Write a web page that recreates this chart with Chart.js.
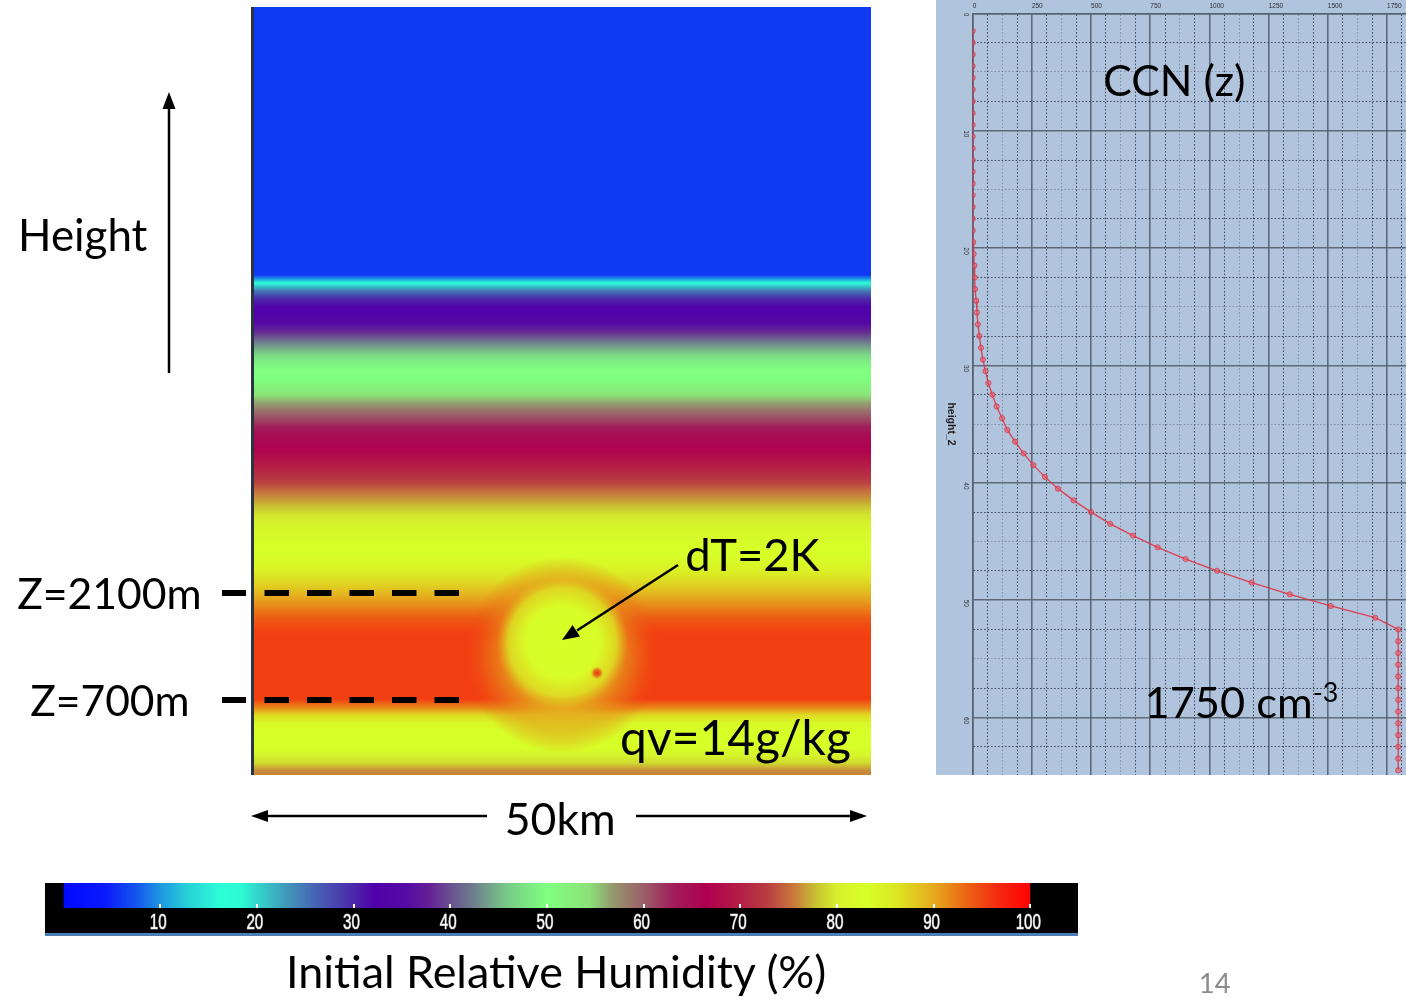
<!DOCTYPE html>
<html><head><meta charset="utf-8"><title>Initial Relative Humidity and CCN(z)</title>
<script src="https://cdn.jsdelivr.net/npm/chart.js@4.4.1/dist/chart.umd.min.js"></script>
<style>
html,body{margin:0;padding:0;background:#fff;}
body{width:1406px;height:999px;position:relative;overflow:hidden;}
canvas{position:absolute;display:block;}
.t{position:absolute;left:0;top:0;white-space:nowrap;line-height:1.2;color:#000;font-family:Lato,'Open Sans',sans-serif;}
.bl{display:inline-block;width:0;height:0;vertical-align:baseline;}
sup{font-size:0.62em;vertical-align:0.6em;line-height:0;}
</style></head>
<body>
<canvas id="hm" width="617" height="768" style="left:254px;top:7px"></canvas>
<div style="position:absolute;left:251px;top:7px;width:3px;height:768px;background:#2a3540"></div>
<canvas id="ccn" width="470" height="775" style="left:936px;top:0;background:#b0c4de"></canvas>
<canvas id="cb" width="1033" height="50" style="left:45px;top:883px;background:#000"></canvas>
<div style="position:absolute;left:45px;top:933px;width:1033px;height:3px;background:#4a7fb5"></div>
<svg width="1406" height="999" style="position:absolute;left:0;top:0;pointer-events:none">
  <line x1="169" y1="373" x2="169" y2="106" stroke="#000" stroke-width="2.5"/>
  <polygon points="169,92 162.5,109 175.5,109" fill="#000"/>
  <rect x="222" y="590" width="24" height="6" fill="#000"/>
  <rect x="222" y="697" width="24" height="6" fill="#000"/>
  <line x1="264.5" y1="593" x2="459" y2="593" stroke="#000" stroke-width="6" stroke-dasharray="24.5 18"/>
  <line x1="264.5" y1="700" x2="459" y2="700" stroke="#000" stroke-width="6" stroke-dasharray="24.5 18"/>
  <line x1="264" y1="816" x2="487" y2="816" stroke="#000" stroke-width="2.5"/>
  <polygon points="251,816 268,810 268,822" fill="#000"/>
  <line x1="636" y1="816" x2="854" y2="816" stroke="#000" stroke-width="2.5"/>
  <polygon points="867,816 850,810 850,822" fill="#000"/>
  <line x1="678" y1="565" x2="577" y2="630.5" stroke="#000" stroke-width="2.5"/>
  <polygon points="562,640 580,636.5 572.6,625.1" fill="#000"/>
</svg>
<script>
// ---------------- DATA ----------------
// Colour scale of the colour bar (RH in %, rgb)
const cmapRH = [0, 4.3, 7.7, 10, 12.9, 16.4, 18.4, 20, 23.2, 26, 30, 32.2, 35.3, 37.7, 40, 42.6, 45.7, 50,
  54.4, 56.9, 60, 63, 66.5, 70, 72.7, 75.5, 77.9, 80, 83.1, 86.2, 90, 93.4, 96.8, 100];
const cmapRGB = [[0,10,255],[10,25,250],[20,90,235],[30,150,225],[40,210,215],[45,255,215],[45,250,210],[50,215,205],
  [65,150,185],[70,100,180],[75,40,170],[80,0,170],[85,10,165],[100,30,150],[105,80,145],[110,130,140],[120,200,135],[128,255,128],
  [140,225,120],[150,150,110],[155,95,105],[160,30,90],[175,0,80],[180,30,70],[185,60,65],[200,120,60],[200,195,50],[215,240,45],
  [215,255,40],[220,230,35],[230,170,30],[235,100,20],[245,40,15],[255,0,0]];
const cbTicks = [10, 20, 30, 40, 50, 60, 70, 80, 90, 100];

// Initial RH profile (%), one value per 100 m layer, from the ground upward
const rhProfile = [76, 79, 81, 83, 83, 83, 84, 87, 92,
  95.5, 95.5, 95.5, 95.5, 95.5, 95.5, 95.5, 95.5, 95.5,
  95, 94, 92.5, 91, 89.5, 88, 86.5, 85, 84, 83, 83, 82, 81.5, 80.5, 79.5, 78, 76.5, 75, 73, 71.5, 70, 68.5,
  67, 66, 65, 63, 61, 59, 56.5, 54, 52, 50, 50, 49, 47, 44, 41, 38, 35, 33, 32, 30, 25, 17,
  6, 6, 6, 6, 6, 6, 6, 6, 6, 6, 6, 6, 6, 6, 6, 6, 6, 6, 6, 6, 6, 6, 6, 6, 6, 6, 6, 6, 6, 6, 6, 6, 6, 6];
const rhLevels = rhProfile.map((_, i) => 50 + 100 * i); // layer centres (m)
const domainKm = [0, 50];
const topZ = 9600;

// warm bubble (dT = 2K): halo, core, small moist spot  (x in km, z in m)
const bubbleKm = [25.0, 25.0, 27.8];
const bubbleZm = [1500, 1660, 1275];

// CCN(z) profile
const ccnLevels = [1.5, 2.5, 3.5, 4.5, 5.5, 6.5, 7.5, 8.5, 9.5, 10.5, 11.5, 12.5, 13.5, 14.5, 15.5, 16.5, 17.5, 18.5, 19.5,
  20.5, 21.5, 22.5, 23.5, 24.5, 25.5, 26.5, 27.5, 28.5, 29.5, 30.5, 31.5, 32.5, 33.5, 34.5, 35.5, 36.5, 37.5, 38.5, 39.5,
  40.5, 41.5, 42.5, 43.5, 44.5, 45.5, 46.5, 47.5, 48.5, 49.5, 50.5, 51.5,
  52.5, 53.5, 54.5, 55.5, 56.5, 57.5, 58.5, 59.5, 60.5, 61.5, 62.5, 63.5, 64.5];
const ccnValues = [0, 0, 0, 0, 0, 0, 0, 0, 0, 0, 0, 0, 0, 0, 0, 0, 0, 0, 2,
  4, 7, 8.5, 10, 15, 18, 22, 28, 35, 43, 54, 66, 83, 101, 124, 146, 179, 215, 256, 305,
  360, 426, 500, 581, 677, 781, 899, 1032, 1178, 1339, 1512, 1700,
  1797, 1797, 1797, 1797, 1797, 1797, 1797, 1797, 1797, 1797, 1797, 1797, 1797];
const ccnXLabels = [0, 250, 500, 750, 1000, 1250, 1500, 1750];
const ccnYLabels = [0, 10, 20, 30, 40, 50, 60];

// ---------------- helpers ----------------
function rhRGB(v) {
  if (v <= cmapRH[0]) return cmapRGB[0];
  for (let i = 1; i < cmapRH.length; i++) {
    if (v <= cmapRH[i]) {
      const t = (v - cmapRH[i - 1]) / (cmapRH[i] - cmapRH[i - 1]);
      const a = cmapRGB[i - 1], b = cmapRGB[i];
      return [0, 1, 2].map(k => Math.round(a[k] + (b[k] - a[k]) * t));
    }
  }
  return cmapRGB[cmapRGB.length - 1];
}
function rhColor(v, alpha) {
  const c = rhRGB(v);
  return alpha === undefined ? `rgb(${c[0]},${c[1]},${c[2]})` : `rgba(${c[0]},${c[1]},${c[2]},${alpha})`;
}
function radialFill(stops) {
  return (ctx) => {
    const chart = ctx.chart;
    if (!chart.chartArea || !ctx.raw) return 'rgba(0,0,0,0)';
    const ds = chart.data.datasets[ctx.datasetIndex];
    const cx = chart.scales.x.getPixelForValue(ctx.raw.x);
    const cy = chart.scales.y.getPixelForValue(ctx.raw.y);
    const g = chart.ctx.createRadialGradient(cx, cy, 0, cx, cy, ds.pointRadius);
    stops.forEach(s => g.addColorStop(s[0], s[1]));
    return g;
  };
}
// smooth shading of the layers: one vertical gradient whose stops sit at the layer centres
function layerFill(ctx) {
  const chart = ctx.chart;
  if (!chart.chartArea) return rhColor(rhProfile[ctx.dataIndex] || 0);
  if (!chart.$rhGrad) {
    const sy = chart.scales.y;
    const g = chart.ctx.createLinearGradient(0, sy.getPixelForValue(0), 0, sy.getPixelForValue(topZ));
    rhLevels.forEach((z, i) => g.addColorStop(z / topZ, rhColor(rhProfile[i])));
    chart.$rhGrad = g;
  }
  return chart.$rhGrad;
}
const noUI = {legend: {display: false}, tooltip: {enabled: false}};

// ---------------- heat map ----------------
new Chart(document.getElementById('hm'), {
  type: 'bar',
  data: {
    datasets: [
      {
        type: 'bar', indexAxis: 'y', order: 10,
        data: rhLevels.map((z, i) => ({x: domainKm, y: z})),
        backgroundColor: layerFill,
        borderWidth: 0, categoryPercentage: 1, barPercentage: 1
      },
      {
        type: 'scatter', order: 3, pointRadius: 98, pointBorderWidth: 0,
        data: [{x: bubbleKm[0], y: bubbleZm[0]}],
        pointBackgroundColor: radialFill([[0, rhColor(88, 0.95)], [0.5, rhColor(89, 0.85)], [0.78, rhColor(92, 0.45)], [1, rhColor(95, 0)]])
      },
      {
        type: 'scatter', order: 2, pointRadius: 66, pointBorderWidth: 0,
        data: [{x: bubbleKm[1], y: bubbleZm[1]}],
        pointBackgroundColor: radialFill([[0, rhColor(83)], [0.55, rhColor(83.5)], [0.82, rhColor(86, 0.75)], [1, rhColor(89, 0)]])
      },
      {
        type: 'scatter', order: 1, pointRadius: 7, pointBorderWidth: 0,
        data: [{x: bubbleKm[2], y: bubbleZm[2]}],
        pointBackgroundColor: radialFill([[0, 'rgba(235,45,20,1)'], [0.5, 'rgba(235,70,20,0.7)'], [1, rhColor(88, 0)]])
      }
    ]
  },
  options: {
    responsive: false, animation: false, events: [],
    plugins: noUI, layout: {padding: 0, autoPadding: false},
    scales: {
      x: {type: 'linear', min: 0, max: 50, offset: false, grace: 0, display: false},
      y: {type: 'linear', min: 0, max: topZ, offset: false, grace: 0, display: false}
    }
  }
});

// ---------------- colour bar ----------------
new Chart(document.getElementById('cb'), {
  type: 'bar',
  data: {
    labels: ['RH'],
    datasets: [{
      data: [[0, 100]], borderWidth: 0, categoryPercentage: 1, barPercentage: 1,
      backgroundColor: (ctx) => {
        const chart = ctx.chart;
        if (!chart.chartArea) return '#000';
        const sx = chart.scales.x;
        const g = chart.ctx.createLinearGradient(sx.getPixelForValue(0), 0, sx.getPixelForValue(100), 0);
        cmapRH.forEach((v, i) => g.addColorStop(v / 100, rhColor(v)));
        return g;
      }
    }]
  },
  options: {
    indexAxis: 'y', responsive: false, animation: false, events: [],
    plugins: noUI,
    layout: {padding: {left: 18.5, right: 47.7, top: 0, bottom: 25}, autoPadding: false},
    scales: {
      y: {display: false},
      x: {
        type: 'linear', min: 0, max: 100, offset: false, display: false,
        afterBuildTicks: s => { s.ticks = cbTicks.map(v => ({value: v})); }
      }
    }
  },
  plugins: [{
    id: 'cbTickMarks',
    afterDraw(chart) {
      const s = chart.scales.x, c = chart.ctx, a = chart.chartArea;
      c.save();
      c.fillStyle = '#fff';
      cbTicks.forEach(v => c.fillRect(Math.round(s.getPixelForValue(v)) - 1, a.bottom - 4, 2, 4));
      c.font = '23px "Liberation Sans", Arial, sans-serif';
      c.textAlign = 'center'; c.textBaseline = 'middle';
      c.lineWidth = 1.2; c.strokeStyle = 'rgba(150,150,150,0.9)';
      cbTicks.forEach(v => {
        c.save();
        c.translate(s.getPixelForValue(v) - 2, 39.5);
        c.scale(0.66, 0.95);
        c.strokeText(String(v), 0, 0);
        c.fillText(String(v), 0, 0);
        c.restore();
      });
      c.restore();
    }
  }]
});

// ---------------- CCN(z) ----------------
function gridKind(v, major, half) {
  if (Math.abs(v % major) < 1e-9) return 0;
  if (Math.abs(v % half) < 1e-9) return 1;
  return 2;
}
const gridColors = ['rgba(85,95,112,0.9)', 'rgba(90,100,120,0.55)', 'rgba(30,35,48,0.8)'];
const gridWidths = [1.6, 1, 1];
function gridOpts(major, half) {
  return {
    grid: {
      drawTicks: false,
      color: c => c.tick ? gridColors[gridKind(c.tick.value, major, half)] : gridColors[0],
      lineWidth: c => c.tick ? gridWidths[gridKind(c.tick.value, major, half)] : 1.6
    },
    border: {
      display: true, color: 'rgba(85,95,112,0.9)', width: 1.6,
      dash: c => (c.tick && gridKind(c.tick.value, major, half) !== 0) ? [1.5, 2] : []
    }
  };
}
const xg = gridOpts(250, 125), yg = gridOpts(10, 5);
new Chart(document.getElementById('ccn'), {
  type: 'scatter',
  data: {
    datasets: [{
      data: ccnLevels.map((z, i) => ({x: ccnValues[i], y: z})),
      showLine: true,
      borderColor: 'rgba(225,50,65,0.9)', borderWidth: 1.3,
      pointRadius: 2.6, pointBackgroundColor: 'rgba(235,90,100,0.55)',
      pointBorderColor: 'rgba(215,40,60,0.85)', pointBorderWidth: 0.8
    }]
  },
  options: {
    responsive: false, animation: false, events: [],
    plugins: noUI,
    layout: {padding: {left: 36.7, top: 13.3, right: 0, bottom: 0}, autoPadding: false},
    scales: {
      x: {
        type: 'linear', position: 'top', min: 0, max: 1830,
        afterBuildTicks: s => { const t = []; for (let v = 0; v < 1830; v += 62.5) t.push({value: v}); s.ticks = t; },
        ticks: {display: false}, grid: xg.grid, border: xg.border
      },
      y: {
        type: 'linear', reverse: true, min: 0, max: 64.9,
        afterBuildTicks: s => { const t = []; for (let v = 0; v < 64.9; v += 2.5) t.push({value: v}); s.ticks = t; },
        ticks: {display: false}, grid: yg.grid, border: yg.border
      }
    }
  },
  plugins: [{
    id: 'ccnLabels',
    afterDraw(chart) {
      const {ctx, scales: {x, y}} = chart;
      ctx.save();
      ctx.fillStyle = '#2b2b2b';
      ctx.font = '6.5px "Liberation Sans", sans-serif';
      ctx.textBaseline = 'middle'; ctx.textAlign = 'left';
      ccnXLabels.forEach(v => ctx.fillText(String(v), x.getPixelForValue(v), 6));
      ccnYLabels.forEach(v => {
        ctx.save();
        ctx.translate(29.5, y.getPixelForValue(v) - 0.5);
        ctx.rotate(Math.PI / 2);
        ctx.fillText(String(v), 0, 0);
        ctx.restore();
      });
      ctx.translate(15, 424);
      ctx.rotate(Math.PI / 2);
      ctx.textAlign = 'center';
      ctx.fillStyle = '#1e1e1e';
      ctx.font = 'bold 10.5px "Liberation Sans", sans-serif';
      ctx.fillText('height_2', 0, 0);
      ctx.restore();
    }
  }]
});

// ---------------- annotations (real text) ----------------
const mctx = document.createElement('canvas').getContext('2d');
const annots = [
  {t: 'Height', l: 22, r: 147, b: 251},
  {t: 'Z=2100m', l: 18, r: 199, b: 609},
  {t: 'Z=700m', l: 31, r: 187, b: 716},
  {t: 'dT=2K', l: 687, r: 820, b: 571},
  {t: 'qv=14g/kg', l: 622, r: 850, b: 755},
  {t: '50km', l: 507, r: 613, b: 835},
  {t: 'Initial Relative Humidity (%)', l: 290, r: 826, b: 988},
  {t: '14', l: 1201, r: 1230, b: 993, c: '#8c8c8c'},
  {t: 'CCN (z)', l: 1105, r: 1244, b: 96},
  {t: '1750 cm', sup: '-3', l: 1148, r: 1310, b: 718}
];
annots.forEach(a => {
  mctx.font = '100px Lato';
  const m = mctx.measureText(a.t);
  const ink = m.actualBoundingBoxLeft + m.actualBoundingBoxRight;
  const fs = 100 * (a.r - a.l) / ink;
  const inkLeft = -m.actualBoundingBoxLeft * fs / 100;
  const el = document.createElement('div');
  el.className = 't';
  el.style.fontSize = fs + 'px';
  if (a.c) el.style.color = a.c;
  el.appendChild(document.createTextNode(a.t));
  if (a.sup) { const s = document.createElement('sup'); s.textContent = a.sup; el.appendChild(s); }
  const mk = document.createElement('span'); mk.className = 'bl'; el.appendChild(mk);
  document.body.appendChild(el);
  const r = el.getBoundingClientRect(), mr = mk.getBoundingClientRect();
  el.style.left = (a.l - inkLeft) + 'px';
  el.style.top = (a.b - (mr.top - r.top)) + 'px';
});
</script>
</body></html>
